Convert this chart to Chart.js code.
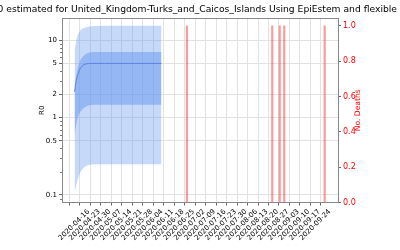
<!DOCTYPE html>
<html>
<head>
<meta charset="utf-8">
<script src="https://cdn.jsdelivr.net/npm/chart.js@4.4.0/dist/chart.umd.min.js"></script>
<style>
  html, body { margin: 0; padding: 0; background: #fff; }
  #wrap { width: 400px; height: 250px; }
</style>
</head>
<body>
<div id="wrap"><canvas id="chart"></canvas></div>
<script>
const titleText = 'R0 estimated for United_Kingdom-Turks_and_Caicos_Islands Using EpiEstem and flexible';
const startDate = '2020-04-16';
const xTickLabels = ['2020-04-16', '2020-04-23', '2020-04-30', '2020-05-07', '2020-05-14', '2020-05-21',
  '2020-05-28', '2020-06-04', '2020-06-11', '2020-06-18', '2020-06-25', '2020-07-02', '2020-07-09',
  '2020-07-16', '2020-07-23', '2020-07-30', '2020-08-06', '2020-08-13', '2020-08-20', '2020-08-27',
  '2020-09-03', '2020-09-10', '2020-09-17', '2020-09-24'];
const rTicks = [0.1, 0.5, 1, 2, 5, 10];
const rMinorTicks = [0.09, 0.2, 0.3, 0.4, 0.6, 0.7, 0.8, 0.9, 3, 4, 6, 7, 8, 9];
const deathTicks = [0, 0.2, 0.4, 0.6, 0.8, 1.0];

// R estimate, sampled by day offset from startDate
const rDays = [0, 1, 2, 3, 4, 6, 8, 10, 13, 20, 30, 40, 50, 58];
const rMedian = [2.15, 2.9, 3.5, 4.0, 4.4, 4.8, 4.95, 5.0, 5.0, 5.0, 5.0, 5.0, 5.0, 5.0];
const rInnerHigh = [2.6, 3.4, 4.3, 5.0, 5.6, 6.3, 6.7, 6.9, 7.0, 7.0, 7.0, 7.0, 7.0, 7.0];
const rInnerLow = [0.58, 0.8, 1.0, 1.12, 1.2, 1.32, 1.4, 1.44, 1.46, 1.46, 1.46, 1.46, 1.46, 1.46];
const rOuterHigh = [7.3, 9.6, 11.5, 12.6, 13.5, 14.3, 14.7, 15.0, 15.2, 15.3, 15.3, 15.3, 15.3, 15.3];
const rOuterLow = [0.105, 0.13, 0.155, 0.18, 0.2, 0.225, 0.238, 0.245, 0.25, 0.25, 0.25, 0.25, 0.25, 0.25];

const deathDates = ['2020-06-30', '2020-08-26', '2020-08-31', '2020-09-03', '2020-09-30'];
const deathCounts = [1, 1, 1, 1, 1];

const DAY = 864e5;
const t0 = Date.parse(startDate);
function toDay(s) { return Math.round((Date.parse(s) - t0) / DAY); }
function toDate(d) { return new Date(t0 + d * DAY).toISOString().slice(0, 10); }
function pts(xs, ys) { return xs.map(function (x, i) { return { x: x, y: ys[i] }; }); }

const FONT = '"DejaVu Sans", sans-serif';

// title (cut off at the left like the original), top frame line, minor log ticks, right axis label
const extras = {
  id: 'extras',
  afterDraw: function (chart) {
    const ctx = chart.ctx, a = chart.chartArea, ys = chart.scales.y;
    ctx.save();
    ctx.fillStyle = '#000';
    ctx.font = '9.2px ' + FONT;
    ctx.textAlign = 'right';
    ctx.textBaseline = 'middle';
    ctx.fillText(titleText, 397, 10);

    ctx.strokeStyle = '#888';
    ctx.lineWidth = 1;
    ctx.beginPath();
    ctx.moveTo(a.left, a.top + 0.5);
    ctx.lineTo(a.right, a.top + 0.5);
    ctx.stroke();

    ctx.strokeStyle = '#777';
    ctx.beginPath();
    rMinorTicks.forEach(function (v) {
      const py = Math.round(ys.getPixelForValue(v)) + 0.5;
      ctx.moveTo(a.left - 2, py);
      ctx.lineTo(a.left, py);
    });
    ctx.stroke();

    ctx.translate(358.5, (a.top + a.bottom) / 2);
    ctx.rotate(-Math.PI / 2);
    ctx.fillStyle = 'red';
    ctx.font = '7.6px ' + FONT;
    ctx.textAlign = 'center';
    ctx.fillText('No. Deaths', 0, 0);
    ctx.restore();
  }
};

new Chart(document.getElementById('chart').getContext('2d'), {
  type: 'line',
  data: {
    datasets: [
      { data: pts(rDays, rMedian), borderColor: '#5f82e6', borderWidth: 1, pointRadius: 0, fill: false, yAxisID: 'y' },
      { data: pts(rDays, rInnerHigh), borderWidth: 0, pointRadius: 0, fill: '+1', backgroundColor: 'rgba(100,149,237,0.5)', yAxisID: 'y' },
      { data: pts(rDays, rInnerLow), borderWidth: 0, pointRadius: 0, fill: false, yAxisID: 'y' },
      { data: pts(rDays, rOuterHigh), borderWidth: 0, pointRadius: 0, fill: '+1', backgroundColor: 'rgba(100,149,237,0.36)', yAxisID: 'y' },
      { data: pts(rDays, rOuterLow), borderWidth: 0, pointRadius: 0, fill: false, yAxisID: 'y' },
      {
        type: 'bar',
        data: pts(deathDates.map(toDay), deathCounts),
        backgroundColor: 'rgba(255,0,0,0.4)',
        barThickness: 1.5,
        yAxisID: 'y2'
      }
    ]
  },
  options: {
    responsive: true,
    maintainAspectRatio: false,
    animation: false,
    devicePixelRatio: 1,
    layout: { padding: { top: 18 } },
    plugins: {
      legend: { display: false },
      tooltip: { enabled: false },
      title: { display: false }
    },
    scales: {
      x: {
        type: 'linear',
        min: -8.4,
        max: 175.9,
        offset: false,
        afterBuildTicks: function (s) { s.ticks = xTickLabels.map(function (l) { return { value: toDay(l) }; }); },
        afterFit: function (s) { s.height = 47.5; },
        ticks: {
          autoSkip: false,
          minRotation: 45,
          maxRotation: 45,
          labelOffset: 14,
          color: '#000',
          font: { family: FONT, size: 7 },
          padding: 2,
          callback: function (v) { return toDate(v); }
        },
        grid: { color: '#e2e2e2', tickColor: '#666', tickLength: 3 },
        border: { color: '#888' }
      },
      y: {
        type: 'logarithmic',
        position: 'left',
        min: 0.08,
        max: 19.3,
        afterBuildTicks: function (s) { s.ticks = rTicks.map(function (v) { return { value: v }; }); },
        afterFit: function (s) { s.width = 62; },
        ticks: {
          color: '#000',
          font: { family: FONT, size: 7 },
          padding: 2,
          callback: function (v) { return String(v); }
        },
        title: { display: true, text: 'R0', color: '#000', font: { family: FONT, size: 7 }, padding: { top: 38, bottom: 0 } },
        grid: { color: '#e2e2e2', tickColor: '#666', tickLength: 3 },
        border: { color: '#888' }
      },
      y2: {
        type: 'linear',
        position: 'right',
        min: 0,
        max: 1.045,
        afterBuildTicks: function (s) { s.ticks = deathTicks.map(function (v) { return { value: v }; }); },
        afterFit: function (s) { s.width = 62; },
        ticks: {
          color: 'red',
          font: { family: FONT, size: 8 },
          padding: 2,
          callback: function (v) { return v.toFixed(1); }
        },
        grid: { drawOnChartArea: false, color: '#666', tickLength: 3 },
        border: { color: '#888' }
      }
    }
  },
  plugins: [extras]
});
</script>
</body>
</html>
